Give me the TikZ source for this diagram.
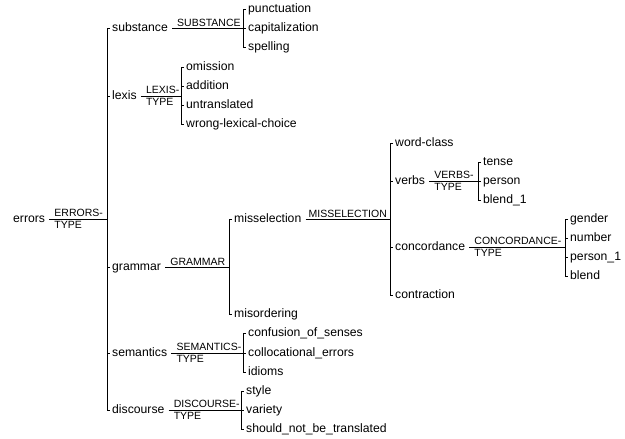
\documentclass[tikz,border=0pt]{standalone}
\usepackage{fontspec}
\setmainfont{Liberation Sans}
\tikzset{
    x=1pt, y=-1pt,
    term/.style={
        anchor=west,
        inner xsep=2pt, inner ysep=0pt,
        text height=9pt, text depth=2.5pt,
        font=\fontsize{12.2}{14}\selectfont
    },
    tag/.style={
        inner sep=1pt,
        align=left,
        font=\fontsize{10.5}{11.5}\selectfont
    },
    stem/.style={
        draw,
        shorten <=2pt,
        line width=1pt
    },
    fork/.style={
        draw,
        line width=1pt
    }
}
\begin{document}
\begin{tikzpicture}
    \useasboundingbox (0,0) rectangle (625,439);

    % root
    \node[term] (errors) at (11,219) {errors};
    \coordinate (errors-br) at (107,219);
    \node[term] (substance) at (110,28) {substance};
    \node[term] (lexis) at (110,96) {lexis};
    \node[term] (grammar) at (110,267) {grammar};
    \node[term] (semantics) at (110,353) {semantics};
    \node[term] (discourse) at (110,410) {discourse};

    % substance
    \coordinate (substance-br) at (243,28);
    \node[term] (punctuation) at (246,9.5) {punctuation};
    \node[term] (capitalization) at (246,28) {capitalization};
    \node[term] (spelling) at (246,47) {spelling};

    % lexis
    \coordinate (lexis-br) at (181,96);
    \node[term] (omission) at (184,67) {omission};
    \node[term] (addition) at (184,86) {addition};
    \node[term] (untranslated) at (184,105) {untranslated};
    \node[term] (wrong) at (184,124) {wrong-lexical-choice};

    % grammar
    \coordinate (grammar-br) at (229,267);
    \node[term] (misselection) at (232,219) {misselection};
    \node[term] (misordering) at (232,314) {misordering};

    \coordinate (misselection-br) at (390,219);
    \node[term] (wordclass) at (393,143) {word-class};
    \node[term] (verbs) at (393,181) {verbs};
    \node[term] (concordance) at (393,247) {concordance};
    \node[term] (contraction) at (393,295) {contraction};

    \coordinate (verbs-br) at (478,181);
    \node[term] (tense) at (481,162) {tense};
    \node[term] (person) at (481,181) {person};
    \node[term] (blend1) at (481,200) {blend\_1};

    \coordinate (concordance-br) at (565,247);
    \node[term] (gender) at (568,219) {gender};
    \node[term] (number) at (568,238) {number};
    \node[term] (person1) at (568,257) {person\_1};
    \node[term] (blend) at (568,276) {blend};

    % semantics
    \coordinate (semantics-br) at (243,353);
    \node[term] (confusion) at (246,333) {confusion\_of\_senses};
    \node[term] (collocational) at (246,353) {collocational\_errors};
    \node[term] (idioms) at (246,372) {idioms};

    % discourse
    \coordinate (discourse-br) at (241,410);
    \node[term] (style) at (244,391) {style};
    \node[term] (variety) at (244,410) {variety};
    \node[term] (shouldnot) at (244,429) {should\_not\_be\_translated};

    % type labels
    \node[tag, anchor=west] (errors-tag) at ([xshift=6pt]errors.east) {ERRORS-\\TYPE};
    \node[tag, anchor=south west] (substance-tag) at ([xshift=6pt]substance.east) {SUBSTANCE};
    \node[tag, anchor=west] (lexis-tag) at ([xshift=6pt]lexis.east) {LEXIS-\\TYPE};
    \node[tag, anchor=south west] (grammar-tag) at ([xshift=6pt]grammar.east) {GRAMMAR};
    \node[tag, anchor=south west] (misselection-tag) at ([xshift=4pt]misselection.east) {MISSELECTION};
    \node[tag, anchor=west] (verbs-tag) at ([xshift=6pt]verbs.east) {VERBS-\\TYPE};
    \node[tag, anchor=west] (concordance-tag) at ([xshift=6pt]concordance.east) {CONCORDANCE-\\TYPE};
    \node[tag, anchor=west] (semantics-tag) at ([xshift=6pt]semantics.east) {SEMANTICS-\\TYPE};
    \node[tag, anchor=west] (discourse-tag) at ([xshift=6pt]discourse.east) {DISCOURSE-\\TYPE};

    % stems
    \draw[stem] (errors) -- (errors-br);
    \draw[stem] (substance) -- (substance-br);
    \draw[stem] (lexis) -- (lexis-br);
    \draw[stem] (grammar) -- (grammar-br);
    \draw[stem] (misselection) -- (misselection-br);
    \draw[stem] (verbs) -- (verbs-br);
    \draw[stem] (concordance) -- (concordance-br);
    \draw[stem] (semantics) -- (semantics-br);
    \draw[stem] (discourse) -- (discourse-br);

    % forks
    \draw[fork] (substance) -- (errors-br |- substance) -- (errors-br |- discourse) -- (discourse)
        (errors-br |- lexis) -- (lexis)
        (errors-br |- grammar) -- (grammar)
        (errors-br |- semantics) -- (semantics);
    \draw[fork] (punctuation) -- (substance-br |- punctuation) -- (substance-br |- spelling) -- (spelling)
        (substance-br) -- (capitalization);
    \draw[fork] (omission) -- (lexis-br |- omission) -- (lexis-br |- wrong) -- (wrong)
        (lexis-br |- addition) -- (addition)
        (lexis-br |- untranslated) -- (untranslated);
    \draw[fork] (misselection) -- (grammar-br |- misselection) -- (grammar-br |- misordering) -- (misordering);
    \draw[fork] (wordclass) -- (misselection-br |- wordclass) -- (misselection-br |- contraction) -- (contraction)
        (misselection-br |- verbs) -- (verbs)
        (misselection-br |- concordance) -- (concordance);
    \draw[fork] (tense) -- (verbs-br |- tense) -- (verbs-br |- blend1) -- (blend1)
        (verbs-br) -- (person);
    \draw[fork] (gender) -- (concordance-br |- gender) -- (concordance-br |- blend) -- (blend)
        (concordance-br |- number) -- (number)
        (concordance-br |- person1) -- (person1);
    \draw[fork] (confusion) -- (semantics-br |- confusion) -- (semantics-br |- idioms) -- (idioms)
        (semantics-br) -- (collocational);
    \draw[fork] (style) -- (discourse-br |- style) -- (discourse-br |- shouldnot) -- (shouldnot)
        (discourse-br) -- (variety);
\end{tikzpicture}
\end{document}
